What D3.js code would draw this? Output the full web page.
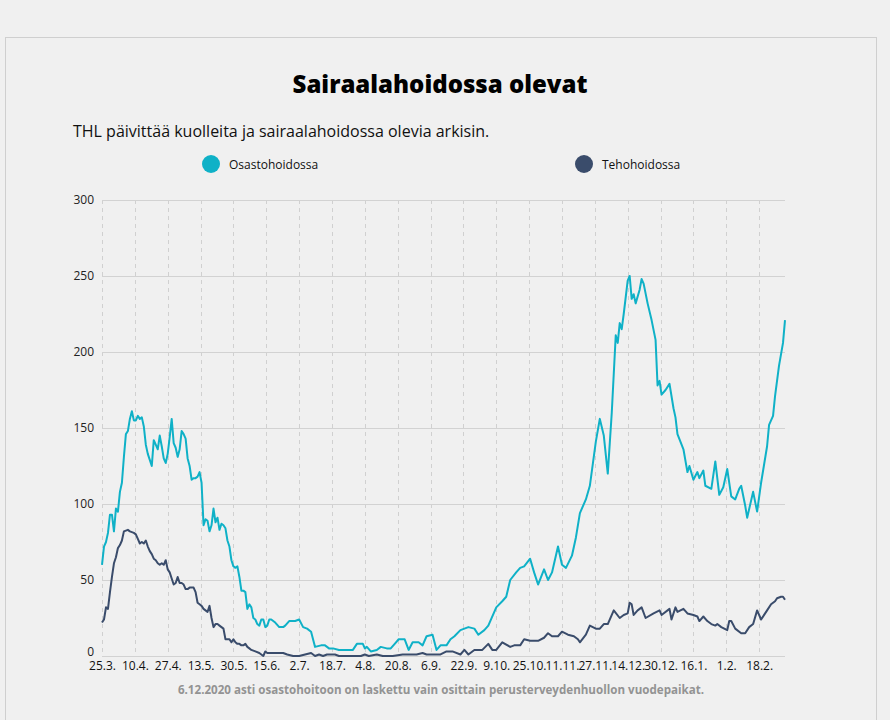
<!DOCTYPE html>
<html>
<head>
<meta charset="utf-8">
<script src="https://cdn.jsdelivr.net/npm/d3@7"></script>
<style>
html,body{margin:0;padding:0;background:#f0f0f0;}
svg{display:block;font-family:"Open Sans",sans-serif;}
</style>
</head>
<body>
<svg id="chart" width="890" height="720"></svg>
<script>
// ---- Data (day offset from 25.3.2020) ----
const xTickLabels = ["25.3.","10.4.","27.4.","13.5.","30.5.","15.6.","2.7.","18.7.","4.8.","20.8.","6.9.","22.9.","9.10.","25.10.","11.11.","27.11.","14.12.","30.12.","16.1.","1.2.","18.2."];
const yTicks = [0,50,100,150,200,250,300];
const seriesNames = ["Osastohoidossa","Tehohoidossa"];
const seriesColors = ["#0fb1c7","#3a4c6b"];

const osastoDays = [0,1,2,3,4,5,6,7,8,9,10,11,12,13,14,15,16,17,18,19,20,21,22,23,24,25,26,27,28,29,30,31,32,33,34,35,36,37,38,39,40,41,42,43,44,45,46,47,48,49,50,51,52,53,54,55,56,57,58,59,60,61,62,63,64,65,66,67,68,69,70,71,72,73,74,75,76,77,78,79,80,81,82,83,84,85,87,89,91,92,94,97,99,101,103,105,107,110,112,114,116,119,121,124,126,128,131,132,133,135,138,140,143,145,147,149,152,154,156,159,161,163,166,168,170,173,175,177,180,182,184,187,189,192,194,198,201,203,205,208,210,212,215,217,219,222,224,226,229,231,233,236,238,240,243,245,248,250,252,254,256,258,259,260,261,262,264,265,266,267,268,270,271,272,274,276,278,279,280,281,283,285,287,288,289,292,294,295,297,299,300,302,303,306,308,310,312,314,316,318,320,321,323,324,327,329,331,334,335,337,338,340,342,343];
const osastoVals = [60,72,75,81,93,93,82,97,95,108,114,131,146,148,156,161,155,155,158,156,157,151,139,133,129,125,142,139,136,145,138,130,127,133,144,156,140,137,131,136,148,146,143,130,125,116,117,117,118,121,114,86,90,89,82,86,97,88,91,83,87,86,84,76,72,63,59,58,59,52,43,43,42,31,34,32,25,24,21,20,24,24,19,20,24,24,22,19,19,20,23,23,24,19,18,16,6,7,7,5,5,4,4,4,4,8,8,5,6,3,4,6,5,5,8,11,11,4,9,9,7,13,14,4,7,7,11,13,17,18,19,18,14,17,20,32,36,39,50,55,58,59,64,55,47,57,50,55,72,60,58,66,78,94,103,112,141,156,145,120,160,211,206,219,215,225,247,250,235,238,232,241,248,245,232,221,208,178,181,172,175,179,163,157,146,136,121,125,116,121,117,122,112,110,128,106,111,123,105,103,110,112,99,91,108,95,114,138,152,158,171,191,206,221];

const tehoDays = [0,1,2,3,4,5,6,7,8,9,10,11,13,14,16,17,18,19,20,21,22,23,24,25,26,27,28,29,30,31,32,33,34,35,36,37,38,39,40,41,42,43,44,46,47,48,49,50,51,52,53,54,55,56,57,58,59,60,61,62,63,64,65,66,67,68,69,70,71,72,73,74,75,77,79,80,81,82,83,86,89,91,93,96,99,102,105,106,107,109,111,113,115,117,119,123,126,130,132,134,138,141,146,151,158,161,163,170,173,176,180,182,184,187,191,194,196,198,201,205,207,210,212,215,219,222,224,226,229,231,234,237,239,240,243,245,248,250,252,254,257,260,262,264,265,266,267,269,271,273,277,280,281,285,286,288,289,292,294,297,299,300,302,304,306,308,309,311,314,315,316,318,321,323,325,327,329,331,334,336,338,339,341,342,343];
const tehoVals = [22,24,32,31,42,52,61,65,71,73,76,82,83,82,81,80,77,74,75,74,76,72,69,67,64,63,61,60,61,60,63,57,55,51,47,48,52,48,48,47,44,44,45,45,42,35,34,33,31,30,29,33,25,19,21,21,20,19,18,11,11,11,9,11,9,8,8,7,7,8,6,5,4,3,2,1,0,3,2,2,2,2,1,0,0,1,2,1,0,1,0,1,1,1,0,0,0,0,1,0,1,0,0,1,1,2,1,1,3,3,1,4,1,4,4,8,4,4,9,6,7,7,11,10,10,12,15,13,13,16,14,13,11,9,14,20,18,18,21,21,30,25,27,28,35,34,27,30,32,25,28,30,27,31,24,32,29,31,28,27,26,23,26,23,21,20,21,19,17,23,23,18,15,15,19,21,30,24,30,34,36,38,39,39,37];

const titleText = "Sairaalahoidossa olevat";
const subtitleText = "THL päivittää kuolleita ja sairaalahoidossa olevia arkisin.";
const footerText = "6.12.2020 asti osastohoitoon on laskettu vain osittain perusterveydenhuollon vuodepaikat.";

// ---- Drawing ----
const svg = d3.select("#chart");
const plot = {left:102, right:785, top:200, bottom:656};

// outer frame
svg.append("rect").attr("x",5.5).attr("y",37.5).attr("width",871).attr("height",700)
  .attr("fill","#f0f0f0").attr("stroke","#cfcfcf").attr("stroke-width",1);

svg.append("text").attr("x",440).attr("y",93).attr("text-anchor","middle")
  .attr("font-size",24).attr("font-weight",800).attr("fill","#000").text(titleText);

svg.append("text").attr("x",73).attr("y",137)
  .attr("font-size",16).attr("fill","#111").text(subtitleText);

// legend
const legendX = [211, 584];
seriesNames.forEach((n,i)=>{
  svg.append("circle").attr("cx",legendX[i]).attr("cy",164).attr("r",9).attr("fill",seriesColors[i]);
  svg.append("text").attr("x",legendX[i]+18).attr("y",168.5).attr("font-size",12).attr("fill","#111").text(n);
});

const x = d3.scaleLinear().domain([0,343]).range([plot.left, plot.right]);
const y = d3.scaleLinear().domain([0,300]).range([plot.bottom, plot.top]);
const tickStep = 16.5;
const xTickPos = xTickLabels.map((d,i)=> i*tickStep);

const g = svg.append("g");

// vertical dashed grid
g.append("g").selectAll("line").data(xTickPos).join("line")
  .attr("x1",d=>Math.round(x(d))+0.5).attr("x2",d=>Math.round(x(d))+0.5)
  .attr("y1",plot.top).attr("y2",plot.bottom)
  .attr("stroke","#d0d0d0").attr("stroke-dasharray","4,4").attr("stroke-width",1);

// horizontal grid
g.append("g").selectAll("line").data(yTicks).join("line")
  .attr("x1",plot.left).attr("x2",plot.right)
  .attr("y1",d=>Math.round(y(d))+0.5).attr("y2",d=>Math.round(y(d))+0.5)
  .attr("stroke","#d2d2d2").attr("stroke-width",1);

// y axis labels
const yAxis = d3.axisLeft(y).tickValues(yTicks).tickSize(0).tickPadding(8);
const ya = g.append("g").attr("transform",`translate(${plot.left},0)`).call(yAxis);
ya.select(".domain").remove();
ya.selectAll("text").attr("font-size",12).attr("fill","#222").attr("font-family","Open Sans, sans-serif")
  .attr("dy", d => d === 0 ? "-0.05em" : "0.32em");

// x axis labels
const xAxis = d3.axisBottom(x).tickValues(xTickPos).tickFormat((d,i)=>xTickLabels[i]).tickSize(0).tickPadding(5);
const xa = g.append("g").attr("transform",`translate(0,${plot.bottom})`).call(xAxis);
xa.select(".domain").remove();
xa.selectAll("text").attr("font-size",12).attr("fill","#111").attr("font-family","Open Sans, sans-serif");

// lines
const mk = (days, vals) => days.map((d,i)=>[d, vals[i]]);
const line = d3.line().x(d=>x(d[0])).y(d=>y(d[1]));
[[osastoDays,osastoVals],[tehoDays,tehoVals]].forEach((s,i)=>{
  g.append("path").datum(mk(s[0],s[1])).attr("d",line)
    .attr("fill","none").attr("stroke",seriesColors[i]).attr("stroke-width",2)
    .attr("stroke-linejoin","round");
});

svg.append("text").attr("x",441).attr("y",694).attr("text-anchor","middle")
  .attr("font-size",11.6).attr("font-weight",700).attr("fill","#939393").text(footerText);
</script>
</body>
</html>
